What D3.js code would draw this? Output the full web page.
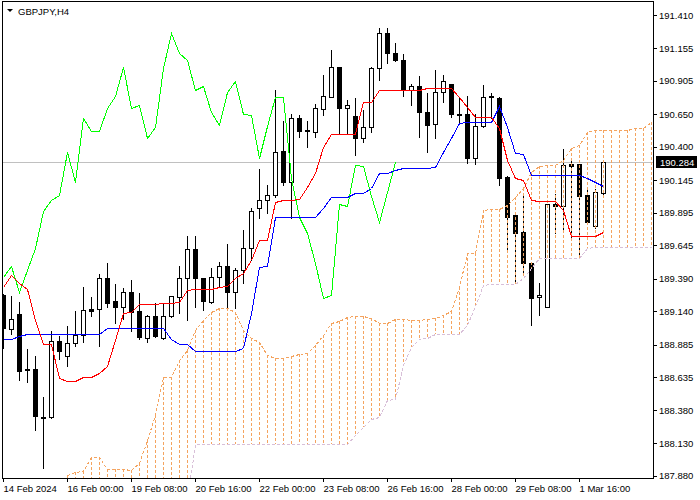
<!DOCTYPE html>
<html>
<head>
<meta charset="utf-8">
<script src="https://cdn.jsdelivr.net/npm/d3@7"></script>
<style>
  body { margin: 0; background: #fff; }
  svg { display: block; }
  text { font-family: "Liberation Sans", Arial, sans-serif; font-size: 9.5px; fill: #000; }
</style>
</head>
<body>
<svg id="chart" width="700" height="500"></svg>
<script>
// GBPJPY H4 candles, bar 0 = 14 Feb 16:00
var opens = [189.264, 189.004, 189.119, 188.697, 188.697, 188.330, 188.330, 188.912, 188.797, 188.897,
  188.958, 189.157, 189.157, 189.395, 189.218, 189.172, 189.287, 189.142, 188.935, 189.103,
  188.935, 189.103, 189.249, 189.395, 189.617, 189.395, 189.211, 189.402, 189.487, 189.287,
  189.456, 189.625, 189.931, 189.992, 190.031, 190.368, 190.130, 190.621, 190.529, 190.513,
  190.690, 190.782, 191.012, 190.697, 190.636, 190.467, 190.552, 191.004, 191.272, 191.119,
  191.065, 190.835, 190.866, 190.667, 190.575, 190.820, 190.881, 190.651, 190.651, 190.314,
  190.559, 190.789, 190.774, 190.169, 189.878, 189.747, 189.510, 189.249, 189.172, 189.962,
  189.946, 190.268, 190.268, 190.031, 189.793, 190.046];
var highs = [189.280, 189.264, 189.218, 188.858, 188.805, 188.491, 188.996, 188.958, 189.035, 189.150,
  189.333, 189.257, 189.433, 189.517, 189.356, 189.326, 189.387, 189.287, 189.119, 189.211,
  189.211, 189.264, 189.494, 189.724, 189.724, 189.402, 189.479, 189.525, 189.663, 189.479,
  189.770, 189.939, 190.238, 190.115, 190.843, 190.605, 190.659, 190.651, 190.605, 190.736,
  190.958, 191.150, 191.012, 190.766, 190.782, 190.690, 191.019, 191.318, 191.318, 191.203,
  191.119, 190.889, 190.950, 190.820, 190.996, 190.958, 190.889, 190.782, 190.797, 190.659,
  190.881, 190.820, 190.789, 190.184, 189.878, 190.031, 189.510, 189.364, 189.962, 190.046,
  190.391, 190.307, 190.276, 190.084, 190.084, 190.307];
var lows = [188.858, 188.966, 188.613, 188.598, 188.230, 187.939, 188.325, 188.774, 188.720, 188.874,
  188.904, 189.103, 188.874, 189.172, 189.050, 189.080, 188.989, 188.927, 188.904, 188.945,
  188.930, 189.096, 189.126, 189.073, 189.172, 189.150, 189.203, 189.326, 189.150, 189.165,
  189.356, 189.533, 189.855, 189.893, 190.015, 190.107, 189.855, 190.475, 190.399, 190.475,
  190.644, 190.782, 190.498, 190.498, 190.337, 190.437, 190.513, 190.912, 191.042, 191.058,
  190.789, 190.720, 190.475, 190.360, 190.467, 190.743, 190.628, 190.582, 190.276, 190.268,
  190.552, 190.621, 190.107, 189.594, 189.356, 189.418, 189.035, 189.111, 189.172, 189.740,
  189.747, 189.709, 189.571, 189.824, 189.778, 190.015];
var closes = [189.012, 189.080, 188.682, 188.690, 188.337, 188.325, 188.912, 188.835, 188.897, 188.958,
  189.150, 189.142, 189.395, 189.203, 189.172, 189.287, 189.134, 188.943, 189.103, 188.950,
  189.103, 189.257, 189.395, 189.617, 189.395, 189.218, 189.402, 189.487, 189.287, 189.456,
  189.625, 189.908, 189.992, 190.031, 190.360, 190.130, 190.621, 190.521, 190.521, 190.697,
  190.789, 191.012, 190.697, 190.720, 190.467, 190.552, 191.004, 191.272, 191.119, 191.065,
  190.835, 190.866, 190.667, 190.567, 190.820, 190.904, 190.651, 190.645, 190.314, 190.559,
  190.782, 190.782, 190.161, 189.862, 189.740, 189.510, 189.241, 189.264, 189.962, 189.946,
  190.261, 190.253, 190.023, 189.824, 190.054, 190.284];

// Ichimoku lines
var tenkan = [189.326, 189.418, 189.356, 189.310, 189.073, 188.889, 188.889, 188.628, 188.605, 188.605,
  188.636, 188.636, 188.667, 188.720, 188.920, 189.127, 189.134, 189.196, 189.196, 189.196,
  189.203, 189.203, 189.211, 189.303, 189.310, 189.310, 189.310, 189.326, 189.333, 189.395,
  189.433, 189.533, 189.686, 189.686, 189.977, 189.992, 189.992, 190.000, 190.092, 190.199,
  190.399, 190.498, 190.498, 190.498, 190.498, 190.743, 190.743, 190.835, 190.835, 190.835,
  190.835, 190.835, 190.835, 190.851, 190.851, 190.851, 190.851, 190.782, 190.705, 190.628,
  190.628, 190.628, 190.544, 190.299, 190.161, 190.146, 189.992, 189.985, 189.985, 189.985,
  189.916, 189.717, 189.717, 189.717, 189.717, 189.747];
var kijun = [188.927, 188.927, 188.950, 188.966, 188.966, 188.966, 188.966, 188.966, 188.966, 188.966,
  188.966, 188.966, 188.966, 189.012, 189.012, 189.012, 189.012, 189.012, 189.012, 189.012,
  189.012, 188.927, 188.889, 188.889, 188.835, 188.835, 188.835, 188.835, 188.835, 188.835,
  188.858, 189.127, 189.479, 189.487, 189.862, 189.862, 189.862, 189.862, 189.862, 189.862,
  189.931, 190.015, 190.015, 190.015, 190.046, 190.046, 190.084, 190.199, 190.199, 190.222,
  190.238, 190.238, 190.238, 190.238, 190.245, 190.360, 190.468, 190.582, 190.590, 190.590,
  190.590, 190.590, 190.713, 190.552, 190.353, 190.345, 190.184, 190.184, 190.184, 190.184,
  190.184, 190.184, 190.184, 190.161, 190.130, 190.100];
// chikou span, bars 0..49
var chikou = [189.402, 189.487, 189.287, 189.456, 189.625, 189.908, 189.992, 190.031, 190.360, 190.130,
  190.621, 190.521, 190.521, 190.697, 190.789, 191.012, 190.697, 190.720, 190.467, 190.552,
  191.004, 191.272, 191.119, 191.065, 190.835, 190.866, 190.667, 190.567, 190.820, 190.904,
  190.651, 190.645, 190.314, 190.559, 190.782, 190.782, 190.161, 189.862, 189.740, 189.510,
  189.241, 189.264, 189.962, 189.946, 190.261, 190.253, 190.023, 189.824, 190.054, 190.284];
// senkou spans, from bar 7 to bar 81
var cloudStart = 7;
var spanA = [187.786, 187.885, 187.908, 187.916, 188.023, 188.023, 187.931, 187.931, 187.931, 187.923,
  187.977, 188.153, 188.345, 188.636, 188.636, 188.766, 188.843, 188.996, 189.073, 189.134,
  189.165, 189.165, 189.134, 188.996, 188.935, 188.904, 188.805, 188.782, 188.782, 188.797,
  188.812, 188.820, 188.881, 188.958, 189.050, 189.065, 189.096, 189.104, 189.104, 189.088,
  189.050, 189.050, 189.081, 189.081, 189.073, 189.073, 189.081, 189.088, 189.111, 189.142,
  189.326, 189.586, 189.586, 189.916, 189.923, 189.923, 189.954, 190.015, 190.084, 190.207,
  190.253, 190.261, 190.261, 190.299, 190.391, 190.414, 190.514, 190.529, 190.529, 190.529,
  190.529, 190.529, 190.544, 190.544, 190.590];
var spanB = [187.700, 187.700, 187.700, 187.700, 187.700, 187.700, 187.700, 187.700, 187.700, 187.700,
  187.700, 187.700, 187.700, 187.700, 187.700, 187.700, 187.700, 188.123, 188.123, 188.123,
  188.123, 188.123, 188.123, 188.123, 188.123, 188.123, 188.123, 188.123, 188.123, 188.123,
  188.123, 188.123, 188.123, 188.123, 188.123, 188.123, 188.123, 188.192, 188.253, 188.314,
  188.330, 188.460, 188.468, 188.728, 188.866, 188.927, 188.935, 188.966, 188.966, 188.966,
  188.966, 189.035, 189.180, 189.341, 189.349, 189.349, 189.349, 189.349, 189.395, 189.471,
  189.548, 189.548, 189.548, 189.548, 189.548, 189.548, 189.625, 189.632, 189.632, 189.632,
  189.632, 189.632, 189.632, 189.632, 189.632];

var lastPrice = 190.284;
var priceTicks = [191.410, 191.155, 190.905, 190.650, 190.400, 190.145, 189.895, 189.645,
  189.390, 189.140, 188.885, 188.635, 188.380, 188.130, 187.880];
var timeTickBars = [0, 8, 16, 24, 32, 40, 48, 56, 64, 72];
var timeLabels = ["14 Feb 2024", "16 Feb 00:00", "19 Feb 08:00", "20 Feb 16:00", "22 Feb 00:00",
  "23 Feb 08:00", "26 Feb 16:00", "28 Feb 00:00", "29 Feb 08:00", "1 Mar 16:00"];

var svg = d3.select("#chart");
var plotL = 2.5, plotR = 653.5, plotT = 1.5, plotB = 478.5;

var x = d3.scaleLinear().domain([0, 81]).range([3, 651]);
var y = d3.scaleLinear().domain([187.88, 191.41]).range([475.7, 15]);

function px(v) { return Math.round(v) + 0.5; }

svg.append("clipPath").attr("id", "clip")
  .append("rect").attr("x", plotL).attr("y", plotT)
  .attr("width", plotR - plotL).attr("height", plotB - plotT);

var plot = svg.append("g").attr("clip-path", "url(#clip)");

// bid line
plot.append("line")
  .attr("x1", plotL).attr("x2", plotR)
  .attr("y1", px(y(lastPrice))).attr("y2", px(y(lastPrice)))
  .attr("stroke", "#c0c0c0").attr("shape-rendering", "crispEdges");

/*
 * CANDLES
 */
var bars = d3.range(opens.length);
var gc = plot.append("g").attr("shape-rendering", "crispEdges");

gc.selectAll("line.wick").data(bars).enter().append("line")
  .attr("class", "wick")
  .attr("x1", i => px(x(i))).attr("x2", i => px(x(i)))
  .attr("y1", i => px(y(highs[i]))).attr("y2", i => px(y(lows[i])))
  .attr("stroke", "#000");

gc.selectAll("path.body").data(bars).enter().append("path")
  .attr("class", "body")
  .attr("d", function(i) {
    var x0 = px(x(i)) - 2, x1 = x0 + 4;
    var t = px(y(Math.max(opens[i], closes[i])));
    var b = px(y(Math.min(opens[i], closes[i])));
    return "M" + x0 + "," + t + "H" + x1 + "V" + b + "H" + x0 + "Z";
  })
  .attr("fill", i => closes[i] >= opens[i] ? "#fff" : "#000")
  .attr("stroke", "#000");

/*
 * ICHIMOKU CLOUD
 */
var cloudBars = d3.range(spanA.length);
plot.append("g").attr("shape-rendering", "crispEdges")
  .selectAll("line").data(cloudBars).enter().append("line")
    .attr("x1", k => px(x(k + cloudStart))).attr("x2", k => px(x(k + cloudStart)))
    .attr("y1", k => Math.round(y(spanA[k])))
    .attr("y2", k => Math.round(y(spanB[k])))
    .attr("stroke", k => spanA[k] >= spanB[k] ? "#f4a460" : "#d8bfd8")
    .attr("stroke-dasharray", "3,2");

function drawLine(values, offset, color, dash) {
  var line = d3.line()
    .x((d, k) => px(x(k + offset)))
    .y(d => px(y(d)));
  plot.append("path")
    .datum(values)
    .attr("d", line)
    .attr("fill", "none")
    .attr("stroke", color)
    .attr("stroke-width", 1)
    .attr("stroke-dasharray", dash || null)
    .attr("shape-rendering", "crispEdges");
}

drawLine(spanB, cloudStart, "#d8bfd8", "3,2");
drawLine(spanA, cloudStart, "#f4a460", "3,2");
drawLine(chikou, 0, "#00ff00");
drawLine(kijun, 0, "#0000ff");
drawLine(tenkan, 0, "#ff0000");

/*
 * FRAME AND AXES
 */
svg.append("path")
  .attr("d", "M" + plotL + "," + plotB + "V" + plotT + "H" + plotR + "V" + plotB + "Z")
  .attr("fill", "none").attr("stroke", "#000")
  .attr("shape-rendering", "crispEdges");

var yAxis = svg.append("g")
  .attr("transform", "translate(653,0)")
  .call(d3.axisRight(y)
    .tickValues(priceTicks)
    .tickSize(4)
    .tickPadding(2)
    .tickFormat(d => d.toFixed(3)));
yAxis.select(".domain").remove();
yAxis.attr("font-family", null).attr("font-size", null);
yAxis.selectAll("line").attr("stroke", "#000").attr("shape-rendering", "crispEdges");

var xAxis = svg.append("g")
  .attr("transform", "translate(0,478)")
  .call(d3.axisBottom(x)
    .tickValues(timeTickBars)
    .tickSize(4)
    .tickPadding(3)
    .tickFormat((d, k) => timeLabels[k]));
xAxis.select(".domain").remove();
xAxis.attr("font-family", null).attr("font-size", null);
xAxis.selectAll("line").attr("stroke", "#000").attr("shape-rendering", "crispEdges");
xAxis.selectAll("text").attr("text-anchor", "start");

// last price marker
var ly = px(y(lastPrice));
svg.append("rect")
  .attr("x", 656).attr("y", ly - 6.5)
  .attr("width", 41).attr("height", 12)
  .attr("fill", "#000");
svg.append("text")
  .attr("x", 660).attr("y", ly)
  .attr("dy", "0.35em")
  .style("fill", "#fff")
  .text(lastPrice.toFixed(3));

// title
svg.append("path").attr("d", "M7,9L13,9L10,12Z").attr("fill", "#000");
svg.append("text").attr("x", 18).attr("y", 14.5).text("GBPJPY,H4");
</script>
</body>
</html>
